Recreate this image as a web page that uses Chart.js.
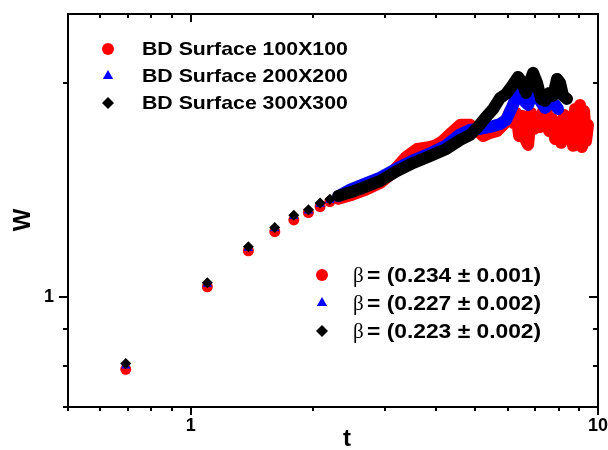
<!DOCTYPE html>
<html>
<head>
<meta charset="utf-8">
<title>W vs t</title>
<script src="https://cdn.jsdelivr.net/npm/chart.js@4.4.1/dist/chart.umd.min.js"></script>
<style>
  html, body { margin: 0; padding: 0; background: #fff; }
  #wrap { width: 608px; height: 450px; }
</style>
</head>
<body>
<div id="wrap"><canvas id="myChart" width="608" height="450"></canvas></div>
<script>
// values (first 8 points are the single early steps)
const redT = [0.693, 1.099, 1.386, 1.609, 1.792, 1.946, 2.079, 2.197, 2.303,
  2.467, 2.685, 2.922, 3.092, 3.216, 3.365, 3.601, 3.810, 3.986, 4.146,
  4.337, 4.589, 4.855, 5.023, 5.226, 5.436, 5.655, 5.916, 6.086, 6.190,
  6.296, 6.403, 6.512, 6.624, 6.736, 6.852, 6.968, 7.087, 7.208, 7.331,
  7.457, 7.584, 7.713, 7.845, 7.979, 8.116, 8.254, 8.395, 8.539, 8.685,
  8.783, 8.933, 9.034, 9.137, 9.241, 9.346, 9.452];
const redW = [0.791, 1.033, 1.161, 1.235, 1.283, 1.314, 1.340, 1.362, 1.374,
  1.390, 1.414, 1.447, 1.486, 1.525, 1.570, 1.615, 1.622, 1.632, 1.655,
  1.695, 1.746, 1.746, 1.718, 1.684, 1.701, 1.712, 1.757, 1.826, 1.757,
  1.814, 1.684, 1.797, 1.668, 1.636, 1.814, 1.723, 1.791, 1.734, 1.826,
  1.850, 1.712, 1.780, 1.668, 1.746, 1.647, 1.803, 1.701, 1.791, 1.631,
  1.838, 1.647, 1.862, 1.625, 1.826, 1.657, 1.746];

const blueT = [0.693, 1.099, 1.386, 1.609, 1.792, 1.946, 2.079, 2.197, 2.303,
  2.467, 2.655, 2.922, 3.216, 3.520, 3.875, 4.241, 4.589, 4.855,
  5.138, 5.436, 5.751, 5.949, 6.155, 6.296, 6.439, 6.588, 6.736, 6.890,
  7.047, 7.208, 7.415, 7.627, 7.845, 7.979];
const blueW = [0.800, 1.043, 1.172, 1.248, 1.298, 1.322, 1.351, 1.369, 1.385,
  1.416, 1.440, 1.472, 1.517, 1.556, 1.592, 1.634, 1.693, 1.718,
  1.723, 1.734, 1.751, 1.774, 1.850, 1.911, 1.936, 1.887, 1.862, 1.930,
  1.949, 1.887, 1.844, 1.887, 1.862, 1.838];

const blackT = [0.693, 1.099, 1.386, 1.609, 1.792, 1.946, 2.079, 2.197, 2.303,
  2.467, 2.655, 2.922, 3.216, 3.520, 3.875, 4.241, 4.589, 4.855,
  5.051, 5.285, 5.529, 5.751, 5.949, 6.155, 6.367, 6.512, 6.661, 6.813,
  6.929, 7.087, 7.249, 7.415, 7.584, 7.757, 7.934, 8.070, 8.208, 8.395];
const blackW = [0.806, 1.047, 1.176, 1.252, 1.303, 1.326, 1.355, 1.372, 1.387,
  1.403, 1.425, 1.456, 1.504, 1.543, 1.579, 1.615, 1.663, 1.690,
  1.729, 1.785, 1.838, 1.905, 1.930, 1.981, 2.039, 2.000, 1.936, 2.013,
  2.066, 2.000, 1.899, 1.887, 1.936, 1.918, 2.026, 2.000, 1.918, 1.899];

const seriesNames = ['BD Surface 100X100', 'BD Surface 200X200', 'BD Surface 300X300'];
const betaLabels = ['= (0.234 \u00B1 0.001)', '= (0.227 \u00B1 0.002)', '= (0.223 \u00B1 0.002)'];
const xTicks = [0.5, 0.6, 0.7, 0.8, 0.9, 1, 2, 3, 4, 5, 6, 7, 8, 9, 10];
const yTicks = [0.7, 0.8, 0.9, 1, 2];
const xLabelled = [1, 10];
const yLabelled = [1];

const FONT = '"Liberation Sans", Arial, sans-serif';
const SINGLE = 8; // points before this index are drawn alone, the rest as a band

function toPoints(ts, ws) {
  return ts.map((t, i) => ({ x: t, y: ws[i] }));
}

function makeSet(label, ts, ws, color, style, order) {
  return {
    label: label,
    data: toPoints(ts, ws),
    showLine: true,
    borderColor: color,
    backgroundColor: color,
    borderWidth: 12,
    borderJoinStyle: 'round',
    borderCapStyle: 'round',
    pointStyle: style,
    pointBorderWidth: 0,
    pointRadius: ctx => ctx.dataIndex <= SINGLE ? 5.5 : 0,
    segment: {
      borderColor: ctx => ctx.p0DataIndex < SINGLE ? 'rgba(0,0,0,0)' : color
    },
    order: order
  };
}

// stretched bold text, the picture is a bit wider than tall
function wideText(c, str, x, y, font, sx) {
  c.save();
  c.font = font;
  c.translate(x, y);
  c.scale(sx, 1);
  c.fillText(str, 0, 0);
  const w = c.measureText(str).width * sx;
  c.restore();
  return w;
}

const framePlugin = {
  id: 'frame',
  afterDraw(chart) {
    const c = chart.ctx;
    const a = chart.chartArea;
    const xs = chart.scales.x, ys = chart.scales.y;
    c.save();
    c.strokeStyle = '#000';
    c.lineWidth = 2;
    c.strokeRect(a.left, a.top, a.right - a.left, a.bottom - a.top);
    c.beginPath();
    xTicks.forEach(v => {
      const px = Math.round(xs.getPixelForValue(v));
      const len = xLabelled.includes(v) ? 8 : 4;
      c.moveTo(px, a.bottom); c.lineTo(px, a.bottom + len);
      c.moveTo(px, a.top); c.lineTo(px, a.top + len);
    });
    yTicks.forEach(v => {
      const py = Math.round(ys.getPixelForValue(v));
      const len = yLabelled.includes(v) ? 9 : 5;
      c.moveTo(a.left - len, py); c.lineTo(a.left, py);
      c.moveTo(a.right, py); c.lineTo(a.right - len, py);
    });
    c.stroke();

    // axis titles
    c.fillStyle = '#000';
    c.textAlign = 'center';
    c.textBaseline = 'middle';
    c.font = 'bold 24px ' + FONT;
    c.fillText('t', 347, 439);
    c.save();
    c.translate(23, 220);
    c.rotate(-Math.PI / 2);
    c.fillText('W', 0, 0);
    c.restore();

    // two legend blocks
    const colors = ['#ff0000', '#0000ff', '#000000'];
    const styles = ['circle', 'triangle', 'rectRot'];
    const helpers = Chart.helpers;
    c.textAlign = 'left';
    const f = 'bold 19px ' + FONT;
    const f2 = 'bold 20px ' + FONT;
    const rows1 = [49, 76, 103];
    const rows2 = [275, 303, 331];
    for (let i = 0; i < 3; i++) {
      c.fillStyle = colors[i];
      helpers.drawPoint(c, { pointStyle: styles[i], radius: 6, borderWidth: 0 }, 108, rows1[i]);
      helpers.drawPoint(c, { pointStyle: styles[i], radius: 6, borderWidth: 0 }, 322, rows2[i]);
      c.fillStyle = '#000';
      wideText(c, seriesNames[i], 142, rows1[i] + 1, f, 1.12);
      c.font = '21px "Liberation Serif", serif';
      c.fillText('\u03B2', 353, rows2[i] + 1);
      wideText(c, betaLabels[i], 367, rows2[i] + 1, f2, 1.14);
    }
    c.restore();
  }
};

const ctx = document.getElementById('myChart').getContext('2d');
const chart = new Chart(ctx, {
  type: 'scatter',
  data: {
    datasets: [
      makeSet(seriesNames[0], redT, redW, '#ff0000', 'circle', 2),
      makeSet(seriesNames[1], blueT, blueW, '#0000ff', 'triangle', 1),
      makeSet(seriesNames[2], blackT, blackW, '#000000', 'rectRot', 0)
    ]
  },
  options: {
    responsive: false,
    animation: false,
    layout: { padding: { top: 14, right: 10, left: 0, bottom: 0 } },
    plugins: {
      legend: { display: false },
      tooltip: { enabled: false }
    },
    scales: {
      x: {
        type: 'logarithmic',
        min: 0.5,
        max: 10,
        afterBuildTicks: s => { s.ticks = xTicks.map(v => ({ value: v })); },
        afterFit: s => { s.height = 43; s.paddingLeft = 0; s.paddingRight = 0; },
        grid: { display: false, drawTicks: false },
        border: { display: false },
        ticks: {
          autoSkip: false,
          maxRotation: 0,
          padding: 8,
          color: '#000',
          font: { family: FONT, size: 18, weight: 'bold' },
          callback: v => xLabelled.includes(v) ? String(v) : ''
        }
      },
      y: {
        type: 'logarithmic',
        min: 0.7,
        max: 2.5,
        afterBuildTicks: s => { s.ticks = yTicks.map(v => ({ value: v })); },
        afterFit: s => { s.width = 68; s.paddingTop = 0; s.paddingBottom = 0; },
        grid: { display: false, drawTicks: false },
        border: { display: false },
        ticks: {
          autoSkip: false,
          padding: 14,
          color: '#000',
          font: { family: FONT, size: 18, weight: 'bold' },
          callback: v => yLabelled.includes(v) ? String(v) : ''
        }
      }
    }
  },
  plugins: [framePlugin]
});
</script>
</body>
</html>
